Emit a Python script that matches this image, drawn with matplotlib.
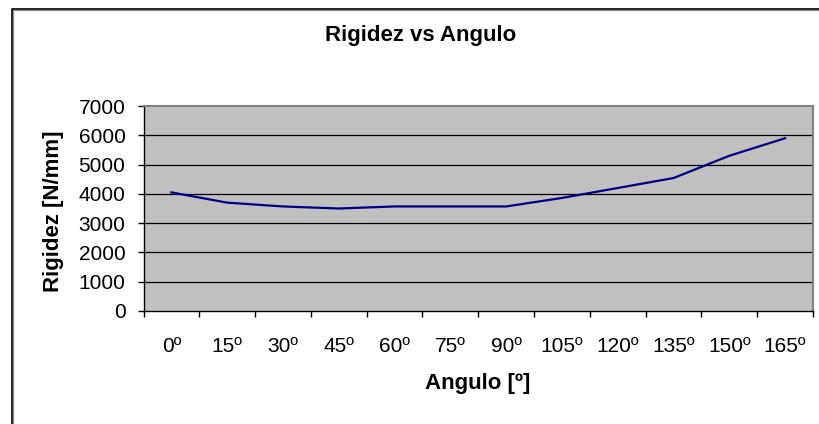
import matplotlib
matplotlib.use("Agg")
import matplotlib.pyplot as plt
from matplotlib.lines import Line2D

# Datos del ensayo
angulos = ["0º", "15º", "30º", "45º", "60º", "75º", "90º",
           "105º", "120º", "135º", "150º", "165º"]
rigidez = [4050, 3700, 3570, 3500, 3570, 3570, 3570,
           3860, 4200, 4540, 5300, 5900]
y_ticks = [0, 1000, 2000, 3000, 4000, 5000, 6000, 7000]

plt.rcParams['font.family'] = ['Liberation Sans', 'DejaVu Sans']

fig = plt.figure(figsize=(8.19, 4.24), dpi=100)
fig.patch.set_facecolor("white")

W, H = 819.0, 424.0
ax = fig.add_axes([143.5 / W, 1 - 311 / H, (813 - 143.5) / W, (311 - 106) / H])
ax.set_facecolor("#C0C0C0")

x = [i + 0.5 for i in range(len(angulos))]
ax.plot(x, rigidez, color="#000080", lw=1.6, solid_joinstyle="round")

ax.set_xlim(0, len(angulos))
ax.set_ylim(0, 7000)

# Rejilla horizontal
for v in y_ticks[1:-1]:
    ax.axhline(v, color="black", lw=0.9, zorder=1)

# Ejes
ax.spines["left"].set_color("black")
ax.spines["bottom"].set_color("black")
ax.spines["left"].set_linewidth(1.0)
ax.spines["bottom"].set_linewidth(1.0)
ax.spines["top"].set_color("#808080")
ax.spines["right"].set_color("#808080")
ax.spines["top"].set_linewidth(1.5)
ax.spines["right"].set_linewidth(1.5)

ax.set_yticks(y_ticks)
ax.set_yticklabels([str(v) for v in y_ticks], fontsize=15)
ax.tick_params(axis="y", direction="out", length=4, width=1, pad=9)

# Marcas del eje x en los limites de categoria, etiquetas en el centro
ax.set_xticks(range(len(angulos) + 1))
ax.set_xticklabels([])
ax.set_xticks(x, minor=True)
ax.set_xticklabels(angulos, minor=True, fontsize=15)
ax.tick_params(axis="x", which="major", direction="out", length=4, width=1)
ax.tick_params(axis="x", which="minor", length=0, pad=19)

fig.text(421 / W, 1 - 36 / H, "Rigidez vs Angulo", ha="center", va="center",
         fontsize=16, fontweight="bold")
fig.text(478 / W, 1 - 384 / H, "Angulo [º]", ha="center", va="center",
         fontsize=16, fontweight="bold")
fig.text(53 / W, 1 - 211 / H, "Rigidez [N/mm]", ha="center", va="center",
         rotation=90, fontsize=16, fontweight="bold")

# Marco del area del grafico
fig.add_artist(Line2D([13 / W, 13 / W, 1.01], [-0.01, 1 - 10 / H, 1 - 10 / H],
                      transform=fig.transFigure, color="#909090", lw=1.0))
fig.add_artist(Line2D([11.5 / W, 11.5 / W, 1.01], [-0.01, 1 - 8.5 / H, 1 - 8.5 / H],
                      transform=fig.transFigure, color="black", lw=1.2))

fig.savefig("out.png", dpi=100)
